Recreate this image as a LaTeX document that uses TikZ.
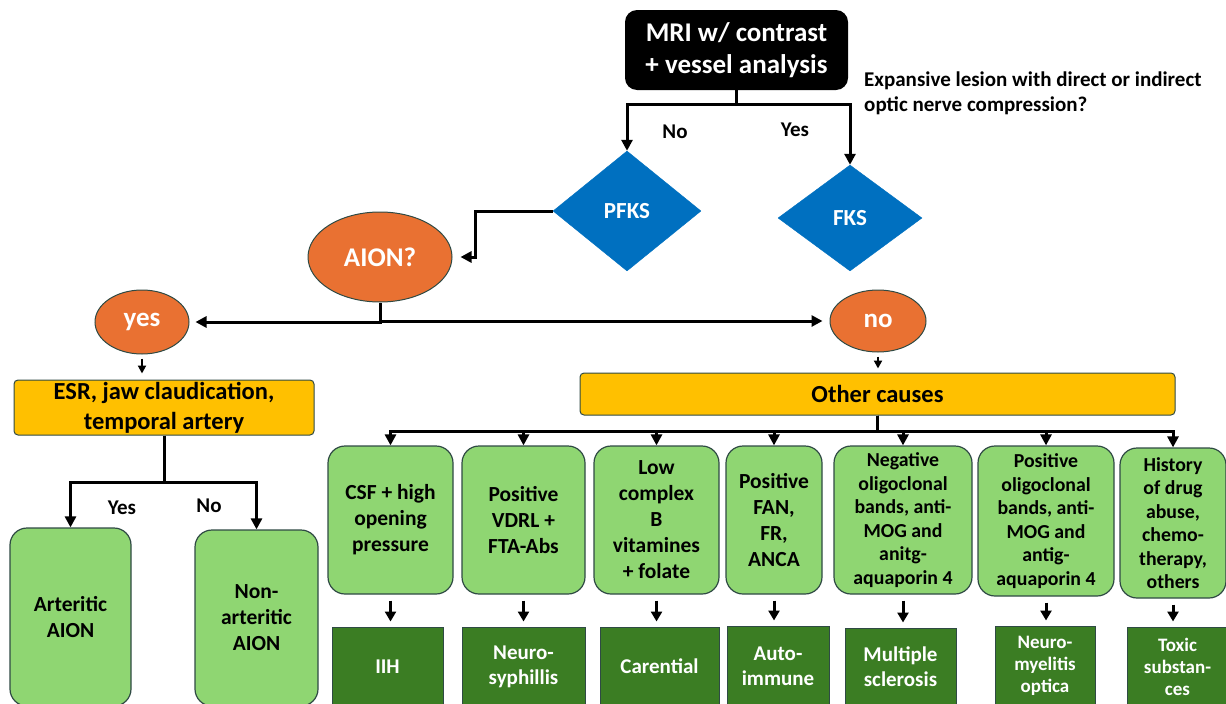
\documentclass[tikz,border=0pt]{standalone}
\usepackage{fontspec}
\setmainfont{Carlito}
\usetikzlibrary{arrows.meta,shapes.geometric}
\definecolor{lgreen}{HTML}{8FD672}
\definecolor{dgreen}{HTML}{3B7D23}
\definecolor{orng}{HTML}{E97132}
\definecolor{ylw}{HTML}{FFC000}
\definecolor{blu}{HTML}{0070C0}
\definecolor{edge}{HTML}{2F4A44}
\begin{document}
\begin{tikzpicture}[x=1pt,y=-1pt,
  txt/.style={font=\bfseries\fontsize{21.5}{26}\selectfont, align=center, inner sep=0pt},
  mri/.style={txt, fill=black, text=white, rounded corners=12pt, font=\bfseries\fontsize{27}{32}\selectfont, minimum width=223pt, minimum height=80pt},
  qtext/.style={txt, align=left, font=\bfseries\fontsize{21}{25}\selectfont},
  lbl/.style={txt, font=\bfseries\fontsize{21}{24}\selectfont},
  dia/.style={txt, diamond, fill=blu, draw=blu, text=white, font=\bfseries\fontsize{23}{26}\selectfont},
  ell/.style={txt, ellipse, fill=orng, draw=edge, line width=1pt, text=white, font=\bfseries\fontsize{27}{30}\selectfont},
  ybox/.style={txt, fill=ylw, draw=edge, line width=1pt, rounded corners=4pt, font=\bfseries\fontsize{24.5}{30}\selectfont},
  gbox/.style={txt, fill=lgreen, draw=edge, line width=1.2pt, rounded corners=17pt},
  gsmall/.style={gbox, font=\bfseries\fontsize{19.8}{23.5}\selectfont},
  dbox/.style={txt, fill=dgreen, draw=edge, line width=1pt, text=white, font=\bfseries\fontsize{21}{25}\selectfont},
  dsmall/.style={dbox, font=\bfseries\fontsize{19}{22}\selectfont},
  arr/.style={line width=3pt, -{Triangle[length=11pt,width=11pt]}},
  marr/.style={line width=3pt, -{Triangle[length=10pt,width=11pt]}},
  sarr/.style={line width=2pt, -{Triangle[length=8pt,width=8pt]}},
  line/.style={line width=3pt}
]
\useasboundingbox (0,0) rectangle (1226,704);
\clip (0,0) rectangle (1226,704);

% top
\node[mri] (mri) at (736.5,50) {MRI w/ contrast\\+ vessel analysis};
\node[qtext, anchor=west] (q) at (864,93) {Expansive lesion with direct or indirect\\optic nerve compression?};
\node[lbl] (lno) at (675,132) {No};
\node[lbl] (lyes) at (795,130) {Yes};
\node[dia, minimum width=148pt, minimum height=120pt] (pfks) at (627,211) {PFKS};
\node[dia, minimum width=144pt, minimum height=106pt] (fks) at (850,218) {FKS};

\draw[arr] (mri.south) -- ++(0,14) -| (pfks.north);
\draw[arr] (mri.south) -- ++(0,14) -| (fks.north);

% AION
\node[ell, minimum width=144pt, minimum height=90pt] (aion) at (380,257) {AION?};
\draw[arr] (pfks.west) -- ++(-77,0) |- ([xshift=8pt]aion.east);

\node[ell, minimum width=94pt, minimum height=64pt] (yes) at (142,322) {yes};
\node[ell, minimum width=96pt, minimum height=62pt] (no) at (878,321) {no};
\draw[arr] (aion.south) |- ([xshift=6pt]yes.east);
\draw[arr] (aion.south) |- ([xshift=-7pt]no.west);

% left branch
\node[ybox, minimum width=300pt, minimum height=55pt] (esr) at (164,407.5) {ESR, jaw claudication,\\temporal artery};
\draw[sarr, shorten <=4pt, shorten >=6pt] (yes.south) -- (yes.south |- esr.north);
\node[gbox, minimum width=121pt, minimum height=178pt] (art) at (70.5,617) {Arteritic\\AION};
\node[gbox, minimum width=123pt, minimum height=176pt] (nart) at (256.5,618) {Non-\\arteritic\\AION};
\draw[arr] (esr.south) -- ++(0,47) -| (art.north);
\draw[arr] (esr.south) -- ++(0,47) -| (nart.north);
\node[lbl] (lyes2) at (122,508) {Yes};
\node[lbl] (lno2) at (209,506) {No};

% right branch
\node[ybox, minimum width=595pt, minimum height=42pt] (other) at (877.5,394) {Other causes};
\draw[sarr, shorten <=4pt, shorten >=4pt] (no.south) -- (no.south |- other.north);

\node[gbox, minimum width=125pt, minimum height=148pt] (b1) at (390.5,520) {CSF + high\\opening\\pressure};
\node[gbox, minimum width=123pt, minimum height=148pt] (b2) at (523.5,520) {Positive\\VDRL +\\FTA-Abs};
\node[gbox, minimum width=125pt, minimum height=148pt] (b3) at (656.5,520) {Low\\complex\\B\\vitamines\\+ folate};
\node[gbox, minimum width=96pt, minimum height=148pt] (b4) at (774,520) {Positive\\FAN,\\FR,\\ANCA};
\node[gsmall, minimum width=138pt, minimum height=148pt] (b5) at (903,520) {Negative\\oligoclonal\\bands, anti-\\MOG and\\anitg-\\aquaporin 4};
\node[gsmall, minimum width=136pt, minimum height=150pt] (b6) at (1046,521) {Positive\\oligoclonal\\bands, anti-\\MOG and\\antig-\\aquaporin 4};
\node[gsmall, minimum width=106pt, minimum height=150pt] (b7) at (1173,523) {History\\of drug\\abuse,\\chemo-\\therapy,\\others};

\foreach \b in {b1,b2,b3,b4,b5,b6,b7}
  \draw[arr] (other.south) -- ++(0,16) -| (\b.north);

\node[dbox, minimum width=111pt, minimum height=79pt] (d1) at (387.5,666.5) {IIH};
\node[dbox, minimum width=123pt, minimum height=79pt] (d2) at (523.5,666.5) {Neuro-\\syphillis};
\node[dbox, minimum width=119pt, minimum height=79pt] (d3) at (659.5,666.5) {Carential};
\node[dbox, minimum width=102pt, minimum height=80pt] (d4) at (778,666) {Auto-\\immune};
\node[dbox, minimum width=111pt, minimum height=78pt] (d5) at (900.5,667) {Multiple\\sclerosis};
\node[dsmall, minimum width=100pt, minimum height=80pt] (d6) at (1045,666) {Neuro-\\myelitis\\optica};
\node[dsmall, minimum width=101pt, minimum height=79pt] (d7) at (1177.5,666.5) {Toxic\\substan-\\ces};

\foreach \i in {1,...,7}
  \draw[marr, shorten <=6pt, shorten >=5pt] (b\i.south) -- (b\i.south |- d\i.north);
\end{tikzpicture}
\end{document}
